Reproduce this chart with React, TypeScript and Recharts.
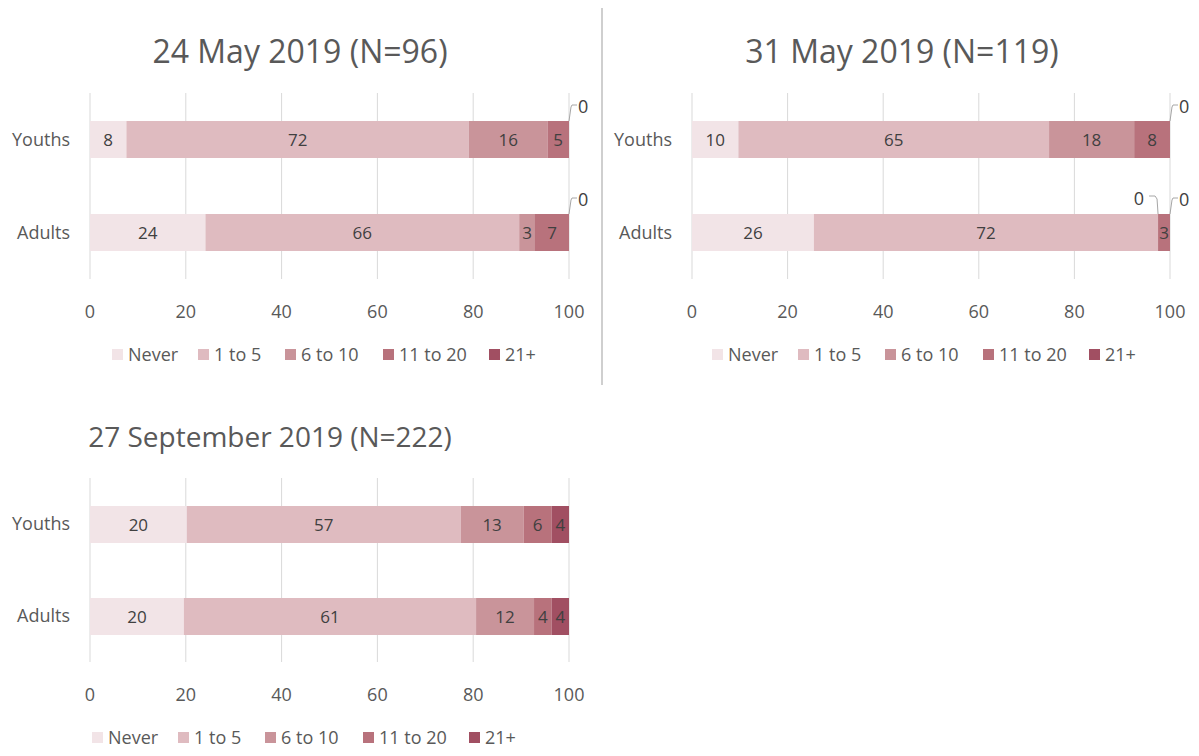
import { Bar, BarChart, CartesianGrid, LabelList, Legend, XAxis, YAxis } from "recharts";

const groups = ["Youths", "Adults"];
const bands = ["Never", "1 to 5", "6 to 10", "11 to 20", "21+"];
const bandColors = ["#f2e4e7", "#dfbbc0", "#c9949a", "#b8727c", "#a14f62"];
const xTicks = [0, 20, 40, 60, 80, 100];

// percentages (labels show them rounded)
const may24Youths = [7.6, 71.5, 16.4, 4.5, 0];
const may24Adults = [24.1, 65.5, 3.3, 7.1, 0];
const may31Youths = [9.7, 65.0, 17.8, 7.5, 0];
const may31Adults = [25.5, 72.0, 0, 2.5, 0];
const sep27Youths = [20.2, 57.2, 13.1, 5.9, 3.6];
const sep27Adults = [19.6, 61.0, 12.1, 3.7, 3.6];

const FONT = "'Open Sans', sans-serif";
const GREY = "#595959";
const legendItemWidths = [86, 87, 98, 106, 50];

function toRows(youths: number[], adults: number[]) {
  return [youths, adults].map((vals, i) => {
    const row: any = { group: groups[i] };
    vals.forEach((v, j) => (row["k" + j] = v));
    return row;
  });
}

function Callout({ x, y, side }: { x: number; y: number; side: "left" | "right" }) {
  if (side === "right") {
    return (
      <g>
        <path d={`M${x},${y} L${x + 2},${y - 14} L${x + 3},${y - 16} L${x + 8},${y - 16}`} stroke="#a6a6a6" fill="none" />
        <text x={x + 9} y={y - 15} dominantBaseline="central" fontSize={18} fill="#404040">0</text>
      </g>
    );
  }
  return (
    <g>
      <path d={`M${x - 9},${y - 18} L${x - 3},${y - 18} L${x - 1},${y - 15} L${x},${y}`} stroke="#a6a6a6" fill="none" />
      <text x={x - 14} y={y - 16} textAnchor="end" dominantBaseline="central" fontSize={18} fill="#404040">0</text>
    </g>
  );
}

// zero-width segments get no label entry, so the bar before them draws their callouts
const makeLabel = (rows: any[], j: number) => (props: any) => {
  const { x, y, width, height, value, index } = props;
  const v = Math.round(Number(value));
  if (!width || v === 0) return null;
  const row = rows[index];
  const callouts = [];
  for (let k = j + 1; k < bands.length && row["k" + k] === 0; k++) {
    callouts.push(<Callout key={k} x={x + width} y={y} side={k === bands.length - 1 ? "right" : "left"} />);
  }
  return (
    <g>
      <text x={x + width / 2} y={y + height / 2} textAnchor="middle" dominantBaseline="central" fontSize={17} fill="#404040">
        {v}
      </text>
      {callouts}
    </g>
  );
};

function LegendRow({ left }: { left: number }) {
  return (
    <div style={{ display: "flex", paddingLeft: left, paddingTop: 24, fontSize: 18, color: GREY, lineHeight: "22px" }}>
      {bands.map((b, i) => (
        <div key={b} style={{ display: "flex", alignItems: "center", gap: 5, width: legendItemWidths[i], flexShrink: 0 }}>
          <span style={{ width: 11, height: 11, background: bandColors[i], display: "inline-block", flexShrink: 0 }} />
          <span style={{ whiteSpace: "nowrap" }}>{b}</span>
        </div>
      ))}
    </div>
  );
}

function StackChart(props: { rows: any[]; left: number; top: number; plotH: number; yWidth: number; right: number; legendLeft: number }) {
  const { rows, left, top, plotH, yWidth, right, legendLeft } = props;
  return (
    <div style={{ position: "absolute", left, top }}>
      <BarChart
        width={600}
        height={15 + plotH + 40 + 50}
        data={rows}
        layout="vertical"
        margin={{ top: 15, right, left: 0, bottom: 0 }}
      >
        <CartesianGrid horizontal={false} stroke="#d9d9d9" />
        <XAxis
          type="number"
          domain={[0, 100]}
          ticks={xTicks}
          axisLine={false}
          tickLine={false}
          height={40}
          tickMargin={20}
          tick={{ fill: GREY, fontSize: 18 }}
        />
        <YAxis
          type="category"
          dataKey="group"
          width={yWidth}
          axisLine={false}
          tickLine={false}
          tickMargin={14}
          tick={{ fill: GREY, fontSize: 18 }}
        />
        {bands.map((b, j) => (
          <Bar key={b} dataKey={"k" + j} name={b} stackId="a" fill={bandColors[j]} barSize={37} isAnimationActive={false}>
            <LabelList dataKey={"k" + j} content={makeLabel(rows, j)} />
          </Bar>
        ))}
        <Legend verticalAlign="bottom" height={50} content={() => <LegendRow left={legendLeft} />} />
      </BarChart>
    </div>
  );
}

export default function App() {
  return (
    <div style={{ position: "absolute", left: 0, top: 0, width: 1199, height: 756, background: "#fff", fontFamily: FONT }}>
      <svg width={1199} height={756} style={{ position: "absolute", left: 0, top: 0 }}>
        <line x1={602} y1={8} x2={602} y2={385} stroke="#cfcfcf" strokeWidth={2} />
        <text x={300} y={63} textAnchor="middle" fontSize={32} fill={GREY}>24 May 2019 (N=96)</text>
        <text x={902} y={63} textAnchor="middle" fontSize={32} fill={GREY}>31 May 2019 (N=119)</text>
        <text x={270} y={447} textAnchor="middle" fontSize={28} fill={GREY}>27 September 2019 (N=222)</text>
      </svg>
      <StackChart rows={toRows(may24Youths, may24Adults)} left={0} top={78} plotH={186} yWidth={90} right={31} legendLeft={112} />
      <StackChart rows={toRows(may31Youths, may31Adults)} left={600} top={78} plotH={186} yWidth={92} right={30} legendLeft={112} />
      <StackChart rows={toRows(sep27Youths, sep27Adults)} left={0} top={463} plotH={184} yWidth={90} right={31} legendLeft={92} />
    </div>
  );
}
